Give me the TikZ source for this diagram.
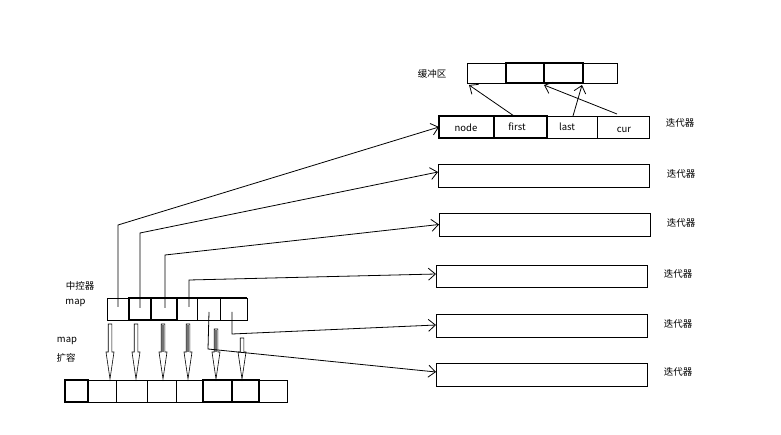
\documentclass[tikz,border=0pt]{standalone}
\usepackage{fontspec}
\setmainfont{Noto Sans CJK SC}
\usetikzlibrary{arrows.meta}
\begin{document}
\begin{tikzpicture}[x=1pt,y=-1pt,
  lbl/.style={font=\fontsize{9.5}{11}\selectfont, inner sep=0pt},
  cell/.style={draw, line width=0.9pt, inner sep=0pt, outer sep=0pt, anchor=north west},
  thk/.style={line width=1.2pt},
  conn/.style={line width=0.8pt, -{Straight Barb[length=7pt,width=12pt,line width=0.8pt]}},
  hollow/.style={draw, line width=0.6pt, fill=white}
]
\useasboundingbox (0,0) rectangle (781,435);

% ---------- buffer ----------
\node[lbl] (buflbl) at (432,74) {缓冲区};
\node[cell, minimum width=39pt, minimum height=20pt] (b1) at (467,63) {};
\node[cell, minimum width=38pt, minimum height=20pt, thk] (b2) at (506,63) {};
\node[cell, minimum width=39pt, minimum height=20pt, thk] (b3) at (544,63) {};
\node[cell, minimum width=34pt, minimum height=20pt] (b4) at (583,63) {};

% ---------- iterator 1 ----------
\node[cell, minimum width=55pt, minimum height=22pt, thk] (i1a) at (439,116) {};
\node[cell, minimum width=53pt, minimum height=22pt, thk] (i1b) at (494,116) {};
\node[cell, minimum width=50pt, minimum height=22pt] (i1c) at (547,116) {};
\node[cell, minimum width=52pt, minimum height=22pt] (i1d) at (597,116) {};
\node[lbl] (tnode) at (466,128) {node};
\node[lbl] (tfirst) at (517,127) {first};
\node[lbl] (tlast) at (567,127) {last};
\node[lbl] (tcur) at (624,130) {cur};
\node[lbl] (l1) at (680,123) {迭代器};

% ---------- iterators 2-6 ----------
\node[cell, minimum width=211pt, minimum height=23pt] (it2) at (438,164) {};
\node[lbl] (l2) at (681,174) {迭代器};
\node[cell, minimum width=211pt, minimum height=23pt] (it3) at (439,213) {};
\node[lbl] (l3) at (681,223) {迭代器};
\node[cell, minimum width=211pt, minimum height=22pt] (it4) at (436,265) {};
\node[lbl] (l4) at (678,274) {迭代器};
\node[cell, minimum width=211pt, minimum height=23pt] (it5) at (436,314) {};
\node[lbl] (l5) at (678,324) {迭代器};
\node[cell, minimum width=211pt, minimum height=23pt] (it6) at (436,363) {};
\node[lbl] (l6) at (678,372) {迭代器};

% ---------- map ----------
\node[lbl] (ctl) at (80,286) {中控器};
\node[lbl] (maplbl) at (75.5,303) {map};
\node[cell, minimum width=22pt, minimum height=22pt] (m1) at (107,298) {};
\node[cell, minimum width=22pt, minimum height=22pt, thk] (m2) at (129,298) {};
\node[cell, minimum width=26pt, minimum height=22pt, thk] (m3) at (151,298) {};
\node[cell, minimum width=20pt, minimum height=22pt] (m4) at (177,298) {};
\node[cell, minimum width=23pt, minimum height=22pt] (m5) at (197,298) {};
\node[cell, minimum width=27pt, minimum height=22pt] (m6) at (220,298) {};
\draw[thk] (m4.north west) -- (m6.north east);

\node[lbl] (maplbl2) at (67,341) {map};
\node[lbl] (kr) at (66,358) {扩容};

% ---------- expanded map ----------
\node[cell, minimum width=23pt, minimum height=22pt, thk] (n1) at (65,380) {};
\node[cell, minimum width=28pt, minimum height=22pt] (n2) at (88,380) {};
\node[cell, minimum width=31pt, minimum height=22pt] (n3) at (116,380) {};
\node[cell, minimum width=29pt, minimum height=22pt] (n4) at (147,380) {};
\node[cell, minimum width=27pt, minimum height=22pt] (n5) at (176,380) {};
\node[cell, minimum width=29pt, minimum height=22pt, thk] (n6) at (203,380) {};
\node[cell, minimum width=27pt, minimum height=22pt, thk] (n7) at (232,380) {};
\node[cell, minimum width=28pt, minimum height=22pt] (n8) at (259,380) {};

% hollow arrows (map expansion)
\foreach \x/\t/\f in {110/324/white,136/324/white,163/324/black!55,188/324/black!55,216/329/black!55,242/338/white}{
  \filldraw[hollow] (\x-1.8,\t) -- (\x+1.8,\t) -- (\x+1.8,352) -- (\x+4,352) -- (\x,379) -- (\x-4,352) -- (\x-1.8,352) -- cycle;
  \fill[\f] (\x-1.2,\t+0.5) rectangle (\x+1.2,351.5);
}

% ---------- connectors map -> iterators ----------
\coordinate (p1) at (118,307);
\coordinate (p2) at (140,308);
\coordinate (p3) at (165,308);
\coordinate (p4) at (189,307);
\coordinate (p5) at (209,312);
\coordinate (p6) at (232,312);
\draw[conn] (p1) -- (118,225) -- (i1a.west);
\draw[conn] (p2) -- (140,233) -- (438,172);
\draw[conn] (p3) -- (165,255) -- (it3.west);
\draw[conn] (p4) -- (189,280) -- (436,274);
\draw[conn] (p6) -- (232,334) -- (436,325);
\draw[conn] (p5) -- (208,349) -- (436,372);

% ---------- iterator 1 -> buffer ----------
\draw[conn] (514,116) -- (469,85);
\draw[conn] (573,116) -- (582,85);
\draw[conn] (617,114) -- (544,85);
\end{tikzpicture}
\end{document}
